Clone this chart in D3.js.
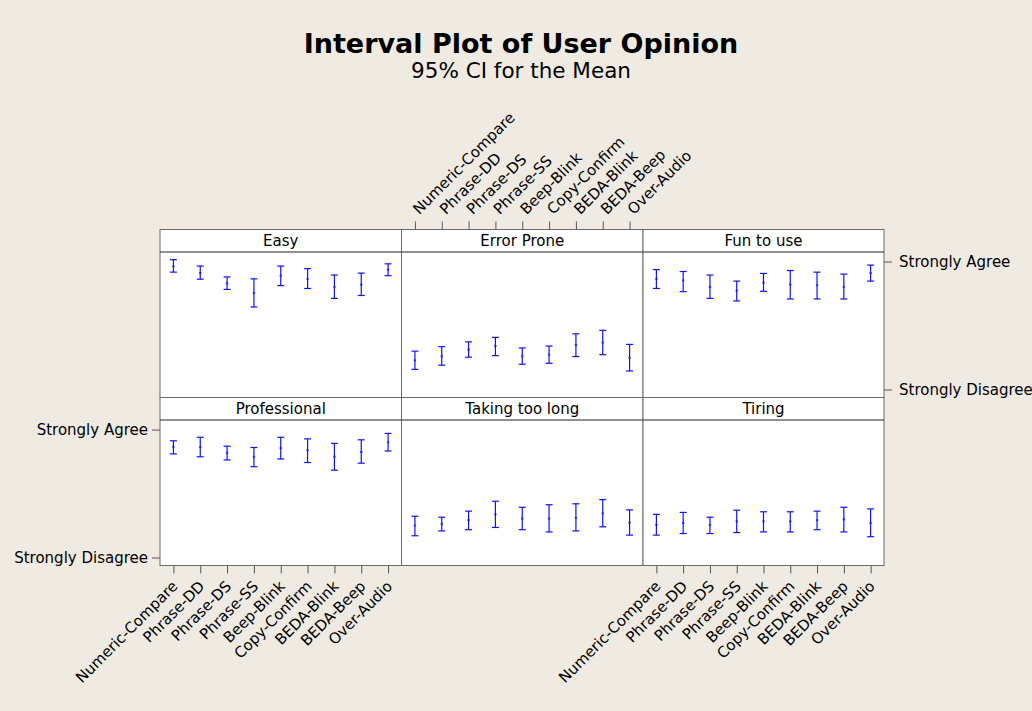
<!DOCTYPE html>
<html><head><meta charset="utf-8">
<script src="https://cdn.jsdelivr.net/npm/d3@7"></script>
<style>
html,body{margin:0;padding:0;background:#efebe2;}
svg{display:block;font-family:"DejaVu Sans",sans-serif;}
</style></head><body>
<svg id="chart" width="1032" height="711"></svg>
<script>
const categories = ["Numeric-Compare","Phrase-DD","Phrase-DS","Phrase-SS","Beep-Blink","Copy-Confirm","BEDA-Blink","BEDA-Beep","Over-Audio"];
const panelNames = ["Easy","Error Prone","Fun to use","Professional","Taking too long","Tiring"];
const yTickValues = [1, 5];
const yTickLabels = ["Strongly Disagree", "Strongly Agree"];

// each row: [lower CI, mean, upper CI], one per category
const easy = [[4.67,4.85,5.06],[4.45,4.64,4.86],[4.13,4.32,4.52],[3.58,4.02,4.46],[4.25,4.56,4.86],[4.16,4.46,4.78],[3.85,4.21,4.58],[3.94,4.28,4.64],[4.56,4.75,4.93]];
const errorProne = [[1.63,1.91,2.20],[1.76,2.04,2.34],[2.01,2.25,2.49],[2.06,2.36,2.63],[1.79,2.04,2.30],[1.82,2.09,2.36],[2.03,2.39,2.74],[2.09,2.47,2.85],[1.58,1.99,2.41]];
const funToUse = [[4.16,4.46,4.75],[4.06,4.41,4.69],[3.85,4.21,4.58],[3.77,4.09,4.39],[4.07,4.34,4.63],[3.83,4.28,4.72],[3.83,4.26,4.67],[3.83,4.21,4.61],[4.39,4.64,4.89]];
const professional = [[4.24,4.46,4.65],[4.15,4.45,4.76],[4.05,4.27,4.48],[3.84,4.15,4.44],[4.08,4.42,4.76],[3.97,4.35,4.71],[3.73,4.15,4.57],[3.95,4.30,4.68],[4.33,4.60,4.88]];
const takingTooLong = [[1.68,2.00,2.29],[1.83,2.05,2.26],[1.87,2.17,2.45],[1.94,2.35,2.76],[1.87,2.22,2.57],[1.80,2.22,2.65],[1.83,2.24,2.68],[1.96,2.38,2.81],[1.70,2.09,2.49]];
const tiring = [[1.70,2.02,2.35],[1.75,2.08,2.41],[1.75,2.02,2.26],[1.78,2.13,2.48],[1.80,2.13,2.43],[1.80,2.13,2.43],[1.87,2.17,2.45],[1.80,2.19,2.57],[1.65,2.08,2.52]];

const panelData = [easy, errorProne, funToUse, professional, takingTooLong, tiring];

const svg = d3.select("#chart");
const colEdges = [160, 401.5, 643, 884];
const rowsLayout = [
  {head: 229.5, top: 252, bottom: 397.5},
  {head: 397.5, top: 420, bottom: 565.5}
];
const yDomain = [0.75, 5.30];
const frameColor = "#6a6a6a";
const tickColor = "#555";
const blue = "#1010ff";

// title
svg.append("text").attr("x", 521).attr("y", 53).attr("text-anchor", "middle")
  .attr("font-size", 27).attr("font-weight", "bold").attr("fill", "#000")
  .text("Interval Plot of User Opinion");
svg.append("text").attr("x", 521).attr("y", 78).attr("text-anchor", "middle")
  .attr("font-size", 21.5).attr("fill", "#000")
  .text("95% CI for the Mean");

function xScaleFor(c) {
  return d3.scalePoint().domain(categories).range([colEdges[c], colEdges[c+1]]).padding(0.5);
}
function yScaleFor(r) {
  return d3.scaleLinear().domain(yDomain).range([rowsLayout[r].bottom, rowsLayout[r].top]);
}

panelNames.forEach((name, i) => {
  const r = Math.floor(i / 3), c = i % 3;
  const L = rowsLayout[r];
  const x0 = colEdges[c], x1 = colEdges[c+1];
  const x = xScaleFor(c), y = yScaleFor(r);
  const g = svg.append("g");
  g.append("rect").attr("x", x0).attr("y", L.head).attr("width", x1 - x0).attr("height", L.bottom - L.head)
    .attr("fill", "#fff");
  g.append("text").attr("x", (x0 + x1) / 2).attr("y", (L.head + L.top) / 2).attr("dy", "0.36em")
    .attr("text-anchor", "middle").attr("font-size", 15).attr("fill", "#000").text(name);
  const data = panelData[i].map((d, k) => ({cat: categories[k], lo: d[0], mean: d[1], hi: d[2]}));
  const iv = g.selectAll("g.iv").data(data).join("g").attr("class", "iv");
  iv.append("line").attr("x1", d => x(d.cat)).attr("x2", d => x(d.cat))
    .attr("y1", d => y(d.lo)).attr("y2", d => y(d.hi)).attr("stroke", blue).attr("stroke-width", 1.2);
  iv.append("line").attr("x1", d => x(d.cat) - 3.5).attr("x2", d => x(d.cat) + 3.5)
    .attr("y1", d => y(d.hi)).attr("y2", d => y(d.hi)).attr("stroke", blue).attr("stroke-width", 1.2);
  iv.append("line").attr("x1", d => x(d.cat) - 3.5).attr("x2", d => x(d.cat) + 3.5)
    .attr("y1", d => y(d.lo)).attr("y2", d => y(d.lo)).attr("stroke", blue).attr("stroke-width", 1.2);
  iv.append("rect").attr("x", d => x(d.cat) - 1.2).attr("y", d => y(d.mean) - 1)
    .attr("width", 2.4).attr("height", 2).attr("fill", blue).attr("opacity", 0.7);
  g.append("rect").attr("x", x0).attr("y", L.head).attr("width", x1 - x0).attr("height", L.bottom - L.head)
    .attr("fill", "none").attr("stroke", frameColor).attr("stroke-width", 1);
  g.append("line").attr("x1", x0).attr("x2", x1).attr("y1", L.top).attr("y2", L.top)
    .attr("stroke", "#222").attr("stroke-width", 1);
});

function styleAxis(g) {
  g.select(".domain").remove();
  g.selectAll(".tick line").attr("stroke", tickColor);
  g.selectAll(".tick text").attr("fill", "#000").attr("font-size", 15).attr("font-family", "DejaVu Sans, sans-serif");
}

const topAxis = svg.append("g").attr("transform", `translate(0,${rowsLayout[0].head})`)
  .call(d3.axisTop(xScaleFor(1)).tickSize(8).tickSizeOuter(0));
styleAxis(topAxis);
topAxis.selectAll(".tick text").attr("text-anchor", "start").attr("x", 0).attr("y", 0).attr("dy", "0.35em")
  .attr("transform", "translate(0,-18) rotate(-45)");

[0, 2].forEach(c => {
  const ax = svg.append("g").attr("transform", `translate(0,${rowsLayout[1].bottom})`)
    .call(d3.axisBottom(xScaleFor(c)).tickSize(8).tickSizeOuter(0));
  styleAxis(ax);
  ax.selectAll(".tick text").attr("text-anchor", "end").attr("x", 0).attr("y", 0).attr("dy", "0.35em")
    .attr("transform", "translate(1,18) rotate(-45)");
});

const leftAxis = svg.append("g").attr("transform", `translate(${colEdges[0]},0)`)
  .call(d3.axisLeft(yScaleFor(1)).tickValues(yTickValues).tickFormat((d, k) => yTickLabels[k])
    .tickSize(8).tickPadding(4).tickSizeOuter(0));
styleAxis(leftAxis);

const rightAxis = svg.append("g").attr("transform", `translate(${colEdges[3]},0)`)
  .call(d3.axisRight(yScaleFor(0)).tickValues(yTickValues).tickFormat((d, k) => yTickLabels[k])
    .tickSize(8).tickPadding(7).tickSizeOuter(0));
styleAxis(rightAxis);
</script>
</body></html>
